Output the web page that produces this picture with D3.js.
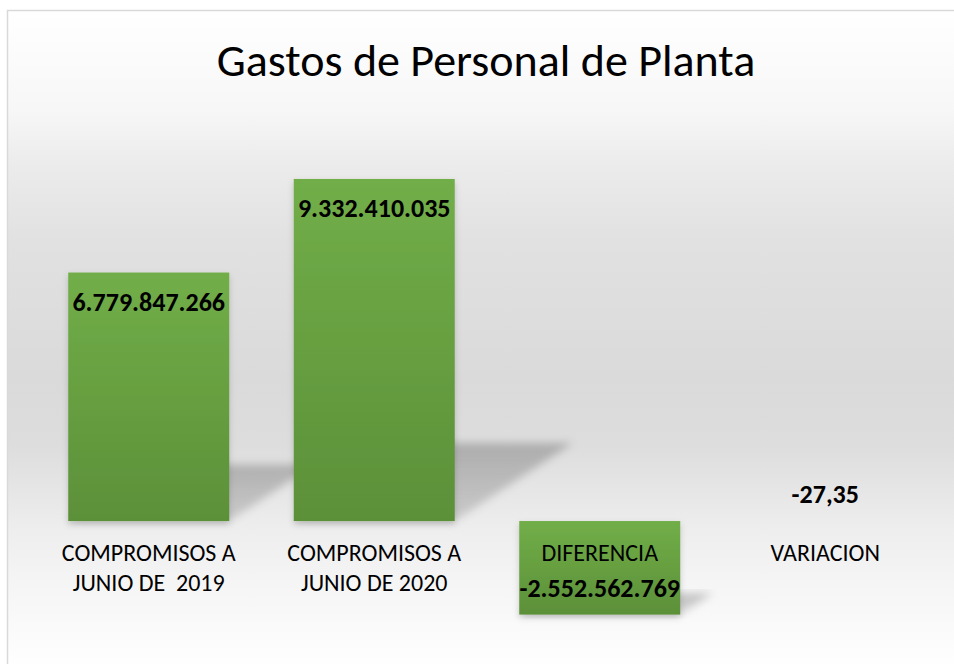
<!DOCTYPE html>
<html>
<head>
<meta charset="utf-8">
<script src="https://cdn.jsdelivr.net/npm/d3@7"></script>
<style>
	body { margin: 0; background: #ffffff; }
	text { font-family: Carlito, Calibri, Lato, sans-serif; }
</style>
</head>
<body>
<svg id="chart" width="954" height="664"></svg>
<script>

var vsCategoryLines = [["COMPROMISOS A", "JUNIO DE  2019"],
					   ["COMPROMISOS A", "JUNIO DE 2020"],
					   ["DIFERENCIA"],
					   ["VARIACION"]];

var vfValues = [6779847266, 9332410035, -2552562769, -27.35];

var vsValueLabels = ["6.779.847.266", "9.332.410.035", "-2.552.562.769", "-27,35"];

var g_sTitle = "Gastos de Personal de Planta";

var g_colorBarTop = "#71ae48";
var g_colorBarBottom = "#5c9039";
var g_colorBorder = "#d9d9d9";

function funcDrawChart() {

	var svg = d3.select("#chart");
	var defs = svg.append("defs");

	// background gradient, light at top and bottom, grey in the middle
	var gradBack = defs.append("linearGradient")
						.attr("id", "gradBack")
						.attr("gradientUnits", "userSpaceOnUse")
						.attr("x1", 0).attr("y1", 10)
						.attr("x2", 0).attr("y2", 670);
	[[0, "#ffffff"], [0.15, "#f7f7f7"], [0.23, "#ececec"], [0.35, "#e1e1e1"],
	 [0.56, "#dadada"], [0.66, "#dddddd"], [0.79, "#eeeeee"], [0.87, "#f5f5f5"], [1, "#ffffff"]]
		.forEach(function(s) {
			gradBack.append("stop").attr("offset", s[0]).attr("stop-color", s[1]);
		});

	var gradBar = defs.append("linearGradient")
						.attr("id", "gradBar")
						.attr("x1", 0).attr("y1", 0)
						.attr("x2", 0).attr("y2", 1);
	gradBar.append("stop").attr("offset", 0).attr("stop-color", g_colorBarTop);
	gradBar.append("stop").attr("offset", 1).attr("stop-color", g_colorBarBottom);

	var gradShadow = defs.append("linearGradient")
						.attr("id", "gradShadow")
						.attr("x1", 0).attr("y1", 0)
						.attr("x2", 0).attr("y2", 1);
	gradShadow.append("stop").attr("offset", 0).attr("stop-color", "#000").attr("stop-opacity", 0.22);
	gradShadow.append("stop").attr("offset", 1).attr("stop-color", "#000").attr("stop-opacity", 0.14);

	defs.append("filter")
			.attr("id", "blurShadow")
			.attr("x", "-20%").attr("y", "-20%")
			.attr("width", "140%").attr("height", "140%")
		.append("feGaussianBlur")
			.attr("stdDeviation", 4);

	defs.append("filter")
			.attr("id", "dropShadow")
			.attr("x", "-20%").attr("y", "-20%")
			.attr("width", "140%").attr("height", "140%")
		.append("feDropShadow")
			.attr("dx", 0).attr("dy", 3)
			.attr("stdDeviation", 3)
			.attr("flood-color", "#000")
			.attr("flood-opacity", 0.18);

	svg.append("rect")
			.attr("x", 7.5)
			.attr("y", 10.5)
			.attr("width", 960)
			.attr("height", 670)
			.attr("fill", "url(#gradBack)")
			.attr("stroke", g_colorBorder)
			.attr("stroke-width", 1.5);

	svg.append("text")
			.attr("x", 486)
			.attr("y", 76)
			.attr("text-anchor", "middle")
			.attr("font-size", "46px")
			.attr("fill", "#000")
			.text(g_sTitle);

	var vnIndex = d3.range(vfValues.length);

	var scaleX = d3.scaleBand()
					.domain(vnIndex)
					.range([36, 938])
					.paddingInner(0.286)
					.paddingOuter(0.143);

	var scaleY = d3.scaleLinear()
					.domain([-3e9, 1e10])
					.range([631, 154.5]);

	var nBase = scaleY(0);

	// perspective shadows thrown to the back right of each bar
	svg.selectAll("path.shadow")
			.data(vnIndex)
			.enter()
			.append("path")
				.attr("class", "shadow")
				.attr("d", function(i) {
					var x0 = scaleX(i);
					var x1 = x0 + scaleX.bandwidth();
					var y0 = scaleY(vfValues[i]);
					var yb = Math.max(y0, nBase);
					var h = Math.abs(y0 - nBase);
					if (h < 1) return "";
					var dx = h * 0.345, dy = h * 0.228;
					return "M" + x0 + "," + yb + "L" + x1 + "," + yb +
						   "L" + (x1 + dx) + "," + (yb - dy) + "L" + (x0 + dx) + "," + (yb - dy) + "Z";
				})
				.attr("fill", "url(#gradShadow)")
				.attr("filter", "url(#blurShadow)");

	svg.selectAll("rect.bar")
			.data(vnIndex)
			.enter()
			.append("rect")
				.attr("class", "bar")
				.attr("x", function(i) { return scaleX(i); })
				.attr("y", function(i) { return Math.min(scaleY(vfValues[i]), nBase); })
				.attr("width", scaleX.bandwidth())
				.attr("height", function(i) { return Math.abs(scaleY(vfValues[i]) - nBase); })
				.attr("fill", "url(#gradBar)")
				.attr("filter", "url(#dropShadow)");

	// category labels under the baseline
	var gCat = svg.selectAll("text.category")
			.data(vnIndex)
			.enter()
			.append("text")
				.attr("class", "category")
				.attr("x", function(i) { return scaleX(i) + scaleX.bandwidth() / 2; })
				.attr("y", nBase + 40)
				.attr("text-anchor", "middle")
				.attr("font-size", "24px")
				.attr("fill", "#000")
				.style("white-space", "pre");

	gCat.selectAll("tspan")
			.data(function(i) { return vsCategoryLines[i].map(function(s) { return { s: s, i: i }; }); })
			.enter()
			.append("tspan")
				.attr("x", function(d) { return scaleX(d.i) + scaleX.bandwidth() / 2; })
				.attr("dy", function(d, k) { return k == 0 ? 0 : 30; })
				.text(function(d) { return d.s; });

	// value labels, inside end of each bar
	svg.selectAll("text.value")
			.data(vnIndex)
			.enter()
			.append("text")
				.attr("class", "value")
				.attr("x", function(i) { return scaleX(i) + scaleX.bandwidth() / 2; })
				.attr("y", function(i) {
					var y = scaleY(vfValues[i]);
					return vfValues[i] >= 0 ? y + 38 : y - 18;
				})
				.attr("text-anchor", "middle")
				.attr("font-size", "26px")
				.attr("font-weight", "bold")
				.attr("fill", "#000")
				.text(function(i) { return vsValueLabels[i]; });
}

funcDrawChart();

</script>
</body>
</html>
